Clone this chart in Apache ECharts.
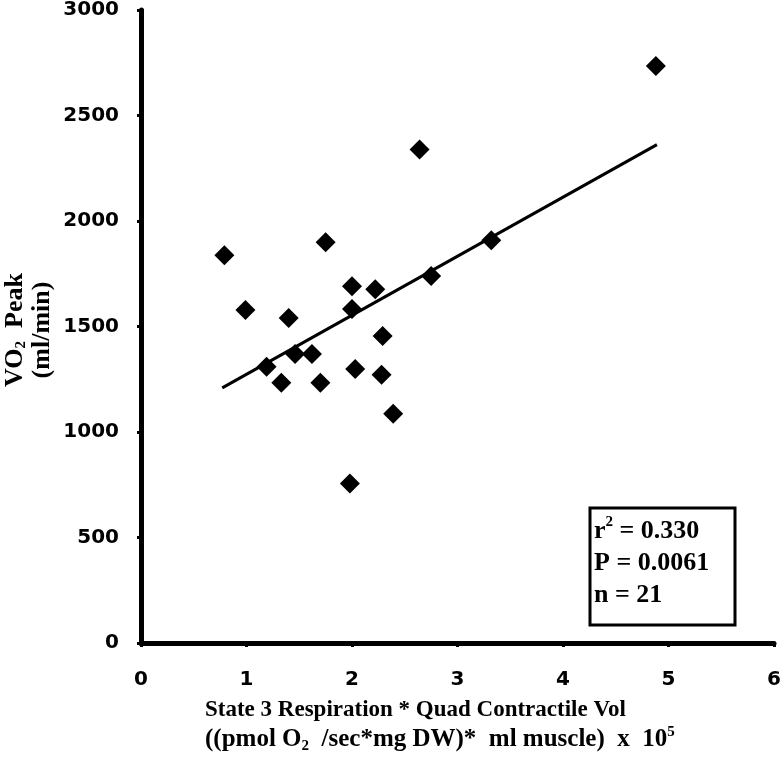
<!DOCTYPE html>
<html>
<head>
<meta charset="utf-8">
<script src="https://cdn.jsdelivr.net/npm/echarts@6/dist/echarts.min.js"></script>
<style>html,body{margin:0;padding:0;background:#fff}#c{width:784px;height:758px}</style>
</head>
<body>
<div id="c"></div>
<script>
// Data
const xValues = [0.79, 0.99, 1.19, 1.33, 1.40, 1.46, 1.62, 1.70, 1.75, 2.00, 2.00, 2.03, 1.98, 2.22, 2.29, 2.28, 2.39, 2.75, 2.64, 3.32, 4.88];
const yValues = [1838, 1578, 1309, 1233, 1540, 1370, 1370, 1233, 1899, 1691, 1583, 1299, 756, 1677, 1455, 1271, 1087, 1739, 2339, 1909, 2735];
const trendX = [0.77, 4.89];
const trendY = [1209, 2362];
const xTicks = [0, 1, 2, 3, 4, 5, 6];
const yTicks = [0, 500, 1000, 1500, 2000, 2500, 3000];
const statLines = ['r{sup|2} = 0.330', 'P = 0.0061', 'n = 21'];

const chart = echarts.init(document.getElementById('c'), null, {renderer: 'canvas'});
const labelFont = {fontFamily: 'DejaVu Sans', fontWeight: 'bold', fontSize: 20, color: '#000', formatter: v => String(v)};
const serif = 'Liberation Serif';
const option = {
  animation: false,
  backgroundColor: '#fff',
  grid: {left: 141, top: 8, right: 9, bottom: 115, containLabel: false},
  xAxis: {
    type: 'value', min: xTicks[0], max: xTicks[xTicks.length - 1], interval: 1,
    axisLine: {show: true, lineStyle: {color: '#000', width: 5}},
    axisTick: {show: true, length: 4, lineStyle: {color: '#000', width: 3}},
    splitLine: {show: false},
    axisLabel: Object.assign({margin: 27}, labelFont)
  },
  yAxis: {
    type: 'value', min: yTicks[0], max: yTicks[yTicks.length - 1], interval: 500,
    axisLine: {show: true, lineStyle: {color: '#000', width: 5}},
    axisTick: {show: true, length: 4, lineStyle: {color: '#000', width: 3}},
    splitLine: {show: false},
    axisLabel: Object.assign({margin: 22}, labelFont)
  },
  series: [
    {
      type: 'line', data: trendX.map((x, i) => [x, trendY[i]]),
      showSymbol: false, symbol: 'none',
      lineStyle: {color: '#000', width: 3}, z: 2
    },
    {
      type: 'scatter', data: xValues.map((x, i) => [x, yValues[i]]),
      symbol: 'diamond', symbolSize: 20,
      itemStyle: {color: '#000', opacity: 1}, z: 3
    }
  ],
  graphic: [
    {
      type: 'text', left: 205, top: 699,
      style: {
        text: 'State 3 Respiration * Quad Contractile Vol',
        font: 'bold 23px "' + serif + '"', fill: '#000'
      }
    },
    {
      type: 'text', left: 205, top: 725,
      style: {
        text: '((pmol O{sub|2}  /sec*mg DW)*  ml muscle)  x  10{sup|5}',
        font: 'bold 25px "' + serif + '"', fill: '#000', lineHeight: 29,
        rich: {
          sub: {fontFamily: serif, fontWeight: 'bold', fontSize: 15, verticalAlign: 'bottom', padding: [8, 0, 0, 0], lineHeight: 29},
          sup: {fontFamily: serif, fontWeight: 'bold', fontSize: 15, verticalAlign: 'top', padding: [0, 0, 8, 0], lineHeight: 29}
        }
      }
    },
    {
      type: 'text', x: 29, y: 330, rotation: Math.PI / 2, originX: 0, originY: 0,
      style: {
        text: 'VO{sub|2}  Peak\n(ml/min)',
        font: 'bold 26px "' + serif + '"', fill: '#000', align: 'center', verticalAlign: 'middle', lineHeight: 27,
        rich: {
          sub: {fontFamily: serif, fontWeight: 'bold', fontSize: 15, verticalAlign: 'bottom', padding: [9, 0, 0, 0], lineHeight: 27}
        }
      }
    },
    {
      type: 'rect', shape: {x: 590, y: 508, width: 145, height: 117},
      style: {fill: '#fff', stroke: '#000', lineWidth: 3}, z: 10
    },
    {
      type: 'text', left: 594, top: 515, z: 11,
      style: {
        text: statLines.join('\n'),
        font: 'bold 26px "' + serif + '"', fill: '#000', lineHeight: 32,
        rich: {
          sup: {fontFamily: serif, fontWeight: 'bold', fontSize: 15, verticalAlign: 'top', padding: [0, 0, 9, 0], lineHeight: 32}
        }
      }
    }
  ]
};
chart.setOption(option);
</script>
</body>
</html>
